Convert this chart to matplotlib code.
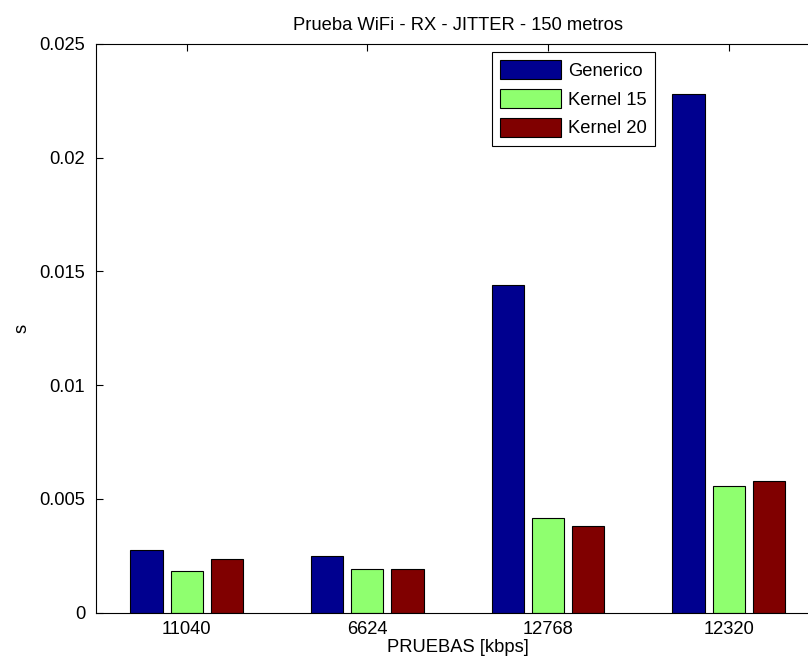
import matplotlib
matplotlib.use("Agg")
import matplotlib.pyplot as plt
import numpy as np

# ---- data ----
categories = ["11040", "6624", "12768", "12320"]
series_names = ["Generico", "Kernel 15", "Kernel 20"]
generico = [0.00277, 0.0025, 0.01442, 0.0228]
kernel15 = [0.00185, 0.0019, 0.00417, 0.00556]
kernel20 = [0.00238, 0.0019, 0.00379, 0.00581]
ytick_values = [0, 0.005, 0.01, 0.015, 0.02, 0.025]
ytick_labels = ["0", "0.005", "0.01", "0.015", "0.02", "0.025"]
title = "Prueba WiFi - RX - JITTER - 150 metros"
xlabel = "PRUEBAS [kbps]"
ylabel = "s"
colors = ["#00008F", "#8FFF6F", "#800000"]

plt.rcParams['font.family'] = ['Liberation Sans', 'DejaVu Sans']
FS = 13.2

fig = plt.figure(figsize=(8.08, 6.66), dpi=100)
W, H = 808, 666
left_px, right_px, top_px, bot_px = 96.3, 819.0, 44.0, 612.7
ax = fig.add_axes([left_px / W, 1 - bot_px / H, (right_px - left_px) / W, (bot_px - top_px) / H])

x = np.arange(1, len(categories) + 1)
bw = 0.178
off = 0.222
for i, (vals, name, c) in enumerate(zip([generico, kernel15, kernel20], series_names, colors)):
    ax.bar(x + (i - 1) * off, vals, width=bw, color=c, edgecolor='black',
           linewidth=0.8, label=name, zorder=2)

ax.set_xlim(0.5, 4.5)
ax.set_ylim(0, 0.025)
ax.set_xticks(x)
ax.set_xticklabels(categories, fontsize=FS)
ax.set_yticks(ytick_values)
ax.set_yticklabels(ytick_labels, fontsize=FS)
ax.tick_params(direction='in', length=5, width=0.8, top=True, right=True,
               colors='black')
ax.tick_params(axis='x', pad=6)
ax.tick_params(axis='y', pad=8)
for s in ax.spines.values():
    s.set_linewidth(0.8)

ax.set_title(title, fontsize=FS, pad=10)
ax.set_xlabel(xlabel, fontsize=FS, labelpad=1)
ax.set_ylabel(ylabel, fontsize=FS, labelpad=6)

leg = ax.legend(loc='upper left', bbox_to_anchor=(492 / W, 1 - 52 / H),
                bbox_transform=fig.transFigure, borderaxespad=0,
                fancybox=False, shadow=False, framealpha=1, edgecolor='black',
                fontsize=FS, handlelength=3.3, handleheight=1.2,
                handletextpad=0.4, labelspacing=0.5, borderpad=0.45)
leg.get_frame().set_linewidth(0.8)

fig.savefig("out.png", dpi=100)
